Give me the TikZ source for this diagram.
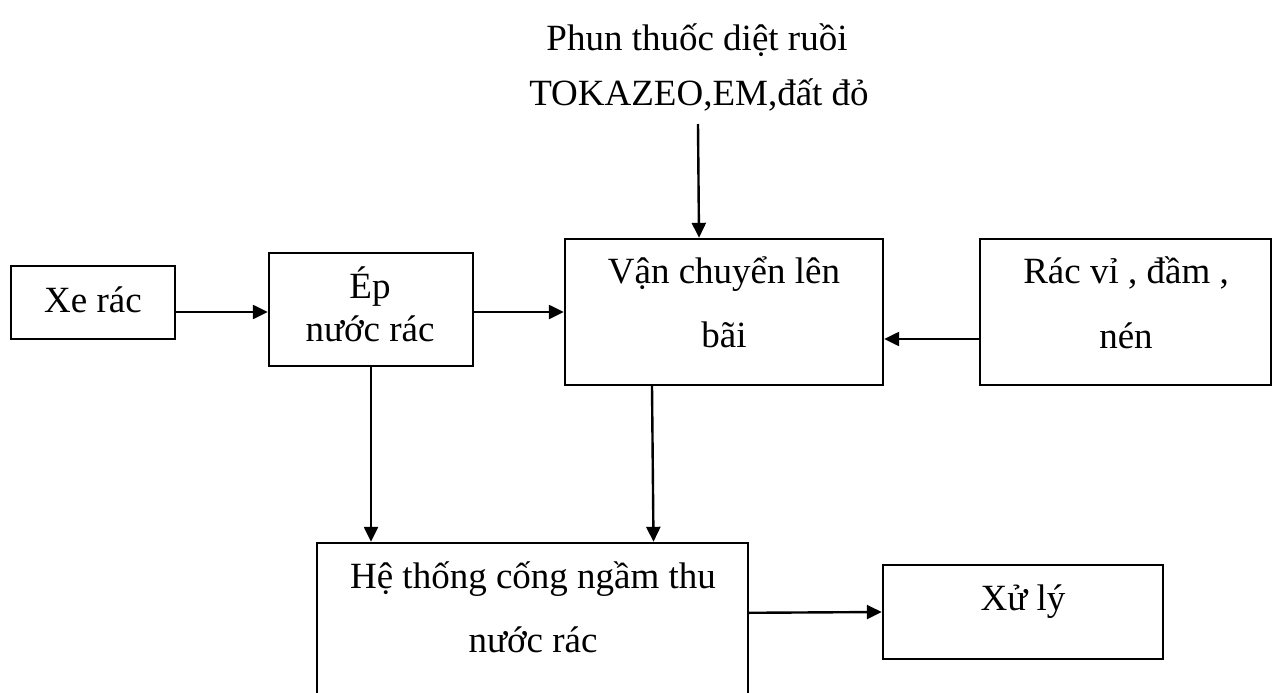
\documentclass[tikz,border=0pt]{standalone}
\usepackage{fontspec}
\setmainfont{Liberation Serif}
\usetikzlibrary{arrows.meta,calc}

\tikzset{
  box/.style={draw, line width=2.4pt, inner sep=0pt, rectangle},
  txt/.style={anchor=base, inner sep=0pt, font=\fontsize{37}{44}\selectfont},
  flow/.style={line width=2.4pt, -{Triangle[length=15pt,width=14pt]}}
}

\begin{document}
\begin{tikzpicture}[x=1pt,y=-1pt]
  \clip (0,0) rectangle (1278,693);
  \fill[white] (0,0) rectangle (1278,693);

  % process boxes
  \node[box, minimum width=164pt, minimum height=73pt]  (xe)  at (93,302.5)   {};
  \node[box, minimum width=204pt, minimum height=113pt] (ep)  at (371,309.5)  {};
  \node[box, minimum width=318pt, minimum height=146pt] (vc)  at (724,312)    {};
  \node[box, minimum width=291pt, minimum height=146pt] (rac) at (1125.5,312) {};
  \node[box, minimum width=431pt, minimum height=217pt] (he)  at (532.5,651.5) {};
  \node[box, minimum width=280pt, minimum height=94pt]  (xl)  at (1023,612)   {};

  % box texts
  \node[txt] (xeA)  at (93,312)   {Xe rác};
  \node[txt] (epA)  at (370,298)  {Ép};
  \node[txt] (epB)  at (370,341)  {nước rác};
  \node[txt] (vcA)  at (724,283)  {Vận chuyển lên};
  \node[txt] (vcB)  at (724,347)  {bãi};
  \node[txt] (racA) at (1126,283) {Rác vỉ , đầm ,};
  \node[txt] (racB) at (1126,348) {nén};
  \node[txt] (heA)  at (533,588)  {Hệ thống cống ngầm thu};
  \node[txt] (heB)  at (533,652)  {nước rác};
  \node[txt] (xlA)  at (1023,610) {Xử lý};

  % input label above the transport box
  \node[txt] (topA) at (697,51)  {Phun thuốc diệt ruồi};
  \node[txt] (topB) at (699,106) {TOKAZEO,EM,đất đỏ};
  \coordinate (topEnd) at (698,124);

  % connectors
  \draw[flow] (xe.east |- vc.west) -- (ep.west |- vc.west);
  \draw[flow] (ep.east |- vc.west) -- (vc.west);
  \draw[flow] ($(rac.west)+(0,27)$) -- ($(vc.east)+(0,27)$);
  \draw[flow] (topEnd) -- ($(vc.north)+(-25,0)$);
  \draw[flow] (ep.south) -- (ep.south |- he.north);
  \draw[flow] ($(vc.south)+(-72,0)$) -- ($(he.north)+(121,0)$);
  \draw[flow] ($(he.north east)+(0,71)$) -- (xl.west);
\end{tikzpicture}
\end{document}
